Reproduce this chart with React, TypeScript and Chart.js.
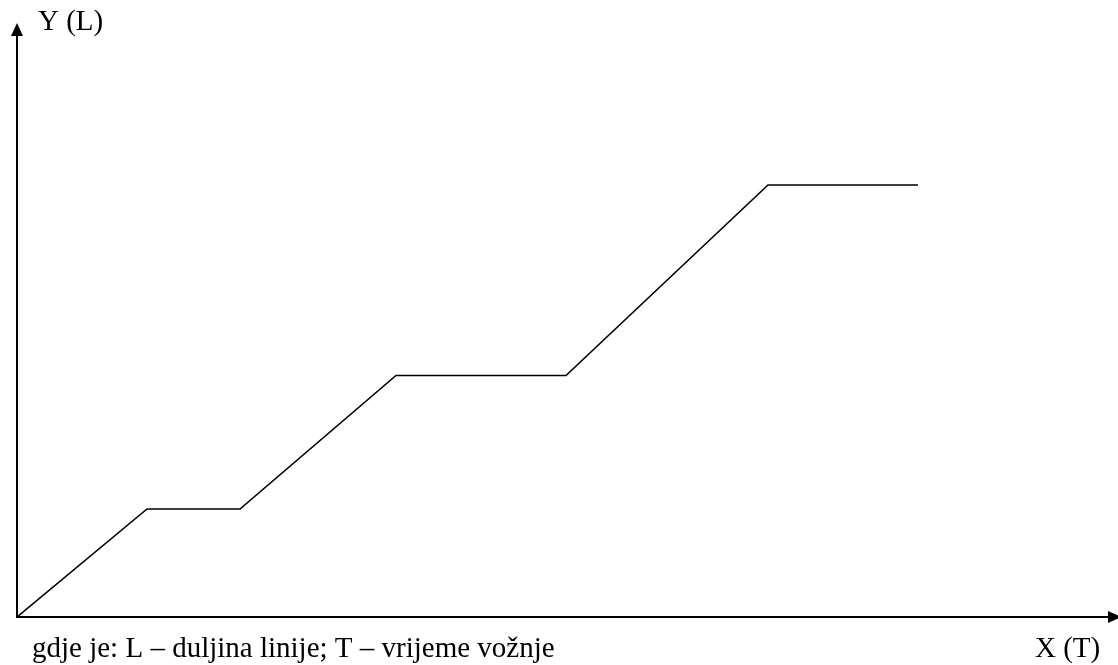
import React, { useEffect, useRef } from "react";
import { Chart, registerables } from "chart.js";

Chart.register(...registerables);

// Travel time (T) values at the break points of the line
const timeValues = [0, 13.0, 22.3, 37.9, 54.9, 75.1, 90.1];
// Line length (L) values at the break points
const lengthValues = [0, 10.8, 10.8, 24.15, 24.15, 43.2, 43.2];

const yAxisLabel = "Y (L)";
const xAxisLabel = "X (T)";
const caption = "gdje je: L \u2013 duljina linije; T \u2013 vrijeme vo\u017enje";

const X_MAX = 110;
const Y_MAX = 59;

const axesPlugin = {
  id: "arrowAxes",
  afterDraw(chart: any) {
    const { ctx, chartArea, scales } = chart;
    const x0 = scales.x.getPixelForValue(0);
    const y0 = scales.y.getPixelForValue(0);
    const W = chart.width;
    ctx.save();
    ctx.strokeStyle = "#000";
    ctx.fillStyle = "#000";
    ctx.lineWidth = 2;
    // Y axis
    ctx.beginPath();
    ctx.moveTo(x0, y0 + 1);
    ctx.lineTo(x0, chartArea.top + 6);
    ctx.stroke();
    // arrow head up
    ctx.beginPath();
    ctx.moveTo(x0, chartArea.top - 4);
    ctx.lineTo(x0 - 6, chartArea.top + 9);
    ctx.lineTo(x0 + 6, chartArea.top + 9);
    ctx.closePath();
    ctx.fill();
    // X axis
    ctx.beginPath();
    ctx.moveTo(x0 - 1, y0);
    ctx.lineTo(W - 6, y0);
    ctx.stroke();
    // arrow head right
    ctx.beginPath();
    ctx.moveTo(W + 3, y0);
    ctx.lineTo(W - 10, y0 - 6);
    ctx.lineTo(W - 10, y0 + 6);
    ctx.closePath();
    ctx.fill();
    // texts
    ctx.font = "29px 'Liberation Serif', 'Times New Roman', serif";
    ctx.textBaseline = "alphabetic";
    ctx.textAlign = "left";
    ctx.fillText(yAxisLabel, 38, 30);
    ctx.fillText(caption, 32, 657);
    ctx.fillText(xAxisLabel, 1035, 657);
    ctx.restore();
  },
};

export default function App() {
  const canvasRef = useRef<HTMLCanvasElement | null>(null);

  useEffect(() => {
    if (!canvasRef.current) return;
    const points = timeValues.map((t, i) => ({ x: t, y: lengthValues[i] }));
    const chart = new Chart(canvasRef.current, {
      type: "line",
      data: {
        datasets: [
          {
            data: points,
            borderColor: "#000",
            borderWidth: 1.6,
            pointRadius: 0,
            fill: false,
            tension: 0,
          },
        ],
      },
      options: {
        animation: false,
        responsive: false,
        maintainAspectRatio: false,
        layout: { padding: { left: 17, right: 1, top: 27, bottom: 48 } },
        plugins: {
          legend: { display: false },
          tooltip: { enabled: false },
          title: { display: false },
        },
        scales: {
          x: { type: "linear", min: 0, max: X_MAX, display: false },
          y: { type: "linear", min: 0, max: Y_MAX, display: false },
        },
      },
      plugins: [axesPlugin],
    });
    return () => chart.destroy();
  }, []);

  return (
    <div style={{ position: "absolute", left: 0, top: 0, width: 1118, height: 665, background: "#fff" }}>
      <canvas ref={canvasRef} width={1118} height={665} style={{ width: 1118, height: 665, display: "block" }} />
    </div>
  );
}
